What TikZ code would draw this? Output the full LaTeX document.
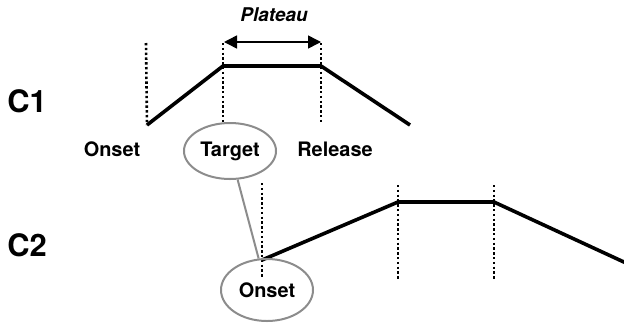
\documentclass[tikz,border=0pt]{standalone}
\usepackage{fontspec}
\setmainfont{TeX Gyre Heros}
\usetikzlibrary{arrows.meta,shapes.geometric}
\begin{document}
\begin{tikzpicture}[x=1bp,y=-1bp,
  curve/.style={line width=3.6bp,line join=miter},
  guide/.style={line width=2.6bp,dash pattern=on 2.4bp off 2.4bp},
  lbl/.style={font=\fontsize{20}{20}\selectfont\bfseries,inner sep=0pt},
  big/.style={font=\fontsize{31}{31}\selectfont\bfseries,inner sep=0pt},
  oval/.style={draw=black!45,line width=2bp,ellipse,minimum width=92bp,minimum height=56bp,inner sep=0pt,font=\fontsize{20}{20}\selectfont\bfseries},
  link/.style={draw=black!45,line width=2bp}]
\useasboundingbox (0,0) rectangle (624,325);
% C1
\coordinate (a1) at (147,125);
\coordinate (b1) at (223,66);
\coordinate (c1) at (321,66);
\coordinate (d1) at (410,125);
\coordinate (a1t) at (146,43);
\coordinate (b1t) at (223,43);
\coordinate (c1t) at (321,43);
\coordinate (b1b) at (223,122);
\coordinate (c1b) at (321,122);
\draw[guide] (a1t) -- (a1);
\draw[guide] (b1t) -- (b1b);
\draw[guide] (c1t) -- (c1b);
\draw[curve] (a1) -- (b1) -- (c1) -- (d1);
\coordinate (pl) at (224,42);
\coordinate (pr) at (321,42);
\draw[line width=1.5bp,{Triangle[length=13bp,width=13bp]}-{Triangle[length=13bp,width=13bp]}] (pl) -- (pr);
\node[font=\fontsize{19}{19}\selectfont\bfseries\itshape,inner sep=0pt] (plateau) at (274,15) {Plateau};
\node[big] (C1) at (27,101) {C1};
\node[lbl] (on1) at (112,149) {Onset};
\node[oval] (target) at (230,151) {Target};
\node[lbl] (rel) at (335,149) {Release};
% C2
\coordinate (a2) at (262,260);
\coordinate (b2) at (398,202);
\coordinate (c2) at (494,202);
\coordinate (d2) at (626,263);
\coordinate (a2t) at (262,183);
\coordinate (a2b) at (262,278);
\coordinate (b2t) at (398,185);
\coordinate (b2b) at (398,279);
\coordinate (c2t) at (494,185);
\coordinate (c2b) at (494,279);
\draw[guide] (a2t) -- (a2b);
\draw[guide] (b2t) -- (b2b);
\draw[guide] (c2t) -- (c2b);
\draw[curve] (a2) -- (b2) -- (c2) -- (d2);
\node[big] (C2) at (27,245) {C2};
\node[oval,minimum height=62bp] (on2) at (267,290) {Onset};
\draw[link] (target) -- (on2);
\end{tikzpicture}
\end{document}
